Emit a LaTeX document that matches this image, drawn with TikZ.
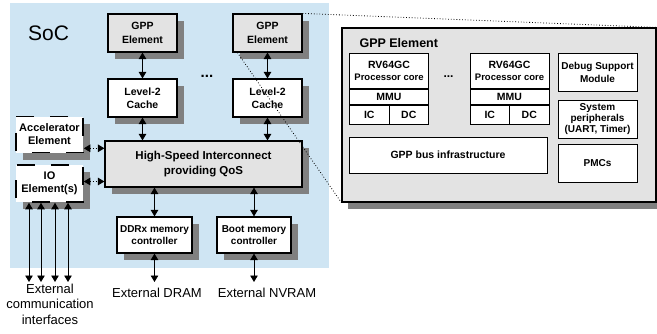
\documentclass[tikz,border=0pt]{standalone}
\usepackage{fontspec}
\setmainfont{Liberation Sans}
\usetikzlibrary{arrows.meta,shadows,positioning}
\definecolor{socblue}{RGB}{207,229,243}
\definecolor{boxgray}{RGB}{227,227,227}
\definecolor{shadowgray}{RGB}{128,128,128}
\tikzset{
  hwbox/.style={draw,line width=1.2pt,fill=white,align=center,inner sep=0pt,
    font=\fontsize{10.5}{13.5}\selectfont\bfseries,
    drop shadow={shadow xshift=7pt,shadow yshift=-7pt,fill=shadowgray,opacity=1}},
  graybox/.style={hwbox,fill=boxgray},
  extbox/.style={hwbox,dash pattern=on 18pt off 16pt,dash phase=18pt,line width=1.6pt,
    font=\fontsize{11}{13}\selectfont\bfseries},
  subbox/.style={draw,line width=1pt,fill=white,align=center,inner sep=0pt,
    font=\fontsize{10.5}{12}\selectfont\bfseries},
  link/.style={line width=0.9pt,{Triangle[width=7.5pt,length=6.5pt]}-{Triangle[width=7.5pt,length=6.5pt]}},
  dotlink/.style={link,dotted},
  zoomline/.style={dotted,line width=0.8pt},
  extlabel/.style={font=\fontsize{13}{15.5}\selectfont,align=center}
}
% one processor core with its MMU and caches
\newcommand\corebox[3]{%
  \node[subbox,anchor=north west,minimum width=79pt,minimum height=35pt] (#1) at (#2,#3)
    {RV64GC\\{\fontsize{9.5}{11}\selectfont Processor core}};
  \node[subbox,anchor=north,minimum width=79pt,minimum height=15pt] (#1mmu) at (#1.south) {MMU};
  \node[subbox,anchor=north west,minimum width=39.5pt,minimum height=19pt] (#1ic) at (#1mmu.south west) {IC};
  \node[subbox,anchor=north east,minimum width=39.5pt,minimum height=19pt] (#1dc) at (#1mmu.south east) {DC};
}
\begin{document}
\begin{tikzpicture}[x=1pt,y=-1pt]
  \useasboundingbox (0,0) rectangle (657,333);
  % The SoC
  \fill[socblue] (10,3) rectangle (329,268);
  \node[font=\fontsize{21}{24}\selectfont] (soc) at (48.5,33) {SoC};

  \node[graybox,minimum width=69pt,minimum height=38pt] (gppA) at (142.5,33) {GPP\\Element};
  \node[graybox,minimum width=69pt,minimum height=38pt] (gppB) at (267.5,33) {GPP\\Element};
  \node[hwbox,minimum width=69pt,minimum height=38pt] (ltwoA) at (142.5,98) {Level-2\\Cache};
  \node[hwbox,minimum width=69pt,minimum height=38pt] (ltwoB) at (267.5,98) {Level-2\\Cache};
  \node[font=\fontsize{15}{15}\selectfont\bfseries] (dotsA) at (207,76) {...};

  \node[graybox,minimum width=197pt,minimum height=46pt,font=\fontsize{11.5}{14.5}\selectfont\bfseries]
    (hsi) at (203.5,164) {High-Speed Interconnect\\providing QoS};
  \node[extbox,minimum width=67pt,minimum height=36pt] (accel) at (49.5,134.5) {Accelerator\\Element};
  \node[extbox,minimum width=67pt,minimum height=37pt] (io) at (49.5,183.5) {IO\\Element(s)};

  \node[hwbox,minimum width=75pt,minimum height=36pt,font=\fontsize{10}{11.5}\selectfont\bfseries]
    (ddr) at (154.5,235) {DDRx memory\\controller};
  \node[hwbox,minimum width=74pt,minimum height=36pt,font=\fontsize{10}{11.5}\selectfont\bfseries]
    (boot) at (254,235) {Boot memory\\controller};

  \draw[link] (gppA) -- (ltwoA);
  \draw[link] (gppB) -- (ltwoB);
  \draw[link] (ltwoA) -- (ltwoA |- hsi.north);
  \draw[link] (ltwoB) -- (ltwoB |- hsi.north);
  \draw[dotlink] ([yshift=5pt]accel.south east) -- ([yshift=5pt]accel.south east -| hsi.west);
  \draw[dotlink] ([yshift=2pt]io.east) -- ([yshift=2pt]io.east -| hsi.west);
  \draw[link] (ddr.north |- hsi.south) -- (ddr.north);
  \draw[link] (boot.north |- hsi.south) -- (boot.north);

  % Off-chip
  \coordinate (dramend) at (154.5,282);
  \coordinate (nvramend) at (254,282);
  \draw[link] (ddr.south) -- (dramend);
  \draw[link] (boot.south) -- (nvramend);
  \node[extlabel] (extdram) at (157,293) {External DRAM};
  \node[extlabel] (extnvram) at (267,293) {External NVRAM};
  \foreach \x [count=\i] in {29,41,55,68} {
    \coordinate (ioend\i) at (\x,282);
    \draw[link] (io.south -| ioend\i) -- (ioend\i);
  }
  \node[extlabel] (extcomm) at (50,304) {External\\communication\\interfaces};

  % The GPP element in detail
  \node[draw,line width=1.2pt,fill=boxgray,minimum width=314pt,minimum height=174pt,
    drop shadow={shadow xshift=6pt,shadow yshift=-7pt,fill=shadowgray,opacity=1}]
    (gpp) at (499,115) {};
  \node[anchor=west,font=\fontsize{12.5}{14}\selectfont\bfseries] (gpptitle) at (356,43) {GPP Element};
  \corebox{coreA}{349}{53}
  \corebox{coreB}{469.5}{53}
  \node[font=\fontsize{12}{12}\selectfont\bfseries] (dotsB) at (448.5,77) {...};
  \node[subbox,minimum width=198pt,minimum height=36pt] (bus) at (448,155) {GPP bus infrastructure};
  \node[subbox,minimum width=79pt,minimum height=38pt,font=\fontsize{10}{13}\selectfont\bfseries]
    (dbg) at (597.5,72) {Debug Support\\Module};
  \node[subbox,minimum width=79pt,minimum height=38pt,font=\fontsize{10}{11}\selectfont\bfseries]
    (sysp) at (597.5,119) {System\\peripherals\\(UART, Timer)};
  \node[subbox,minimum width=79pt,minimum height=38pt,font=\fontsize{10}{11}\selectfont\bfseries]
    (pmc) at (597.5,163) {PMCs};

  % Zoom lines
  \draw[zoomline] (gppB.north east) -- (gpp.north east);
  \draw[zoomline] ([xshift=5pt]gppB.south west) -- (gpp.south west);
\end{tikzpicture}
\end{document}
